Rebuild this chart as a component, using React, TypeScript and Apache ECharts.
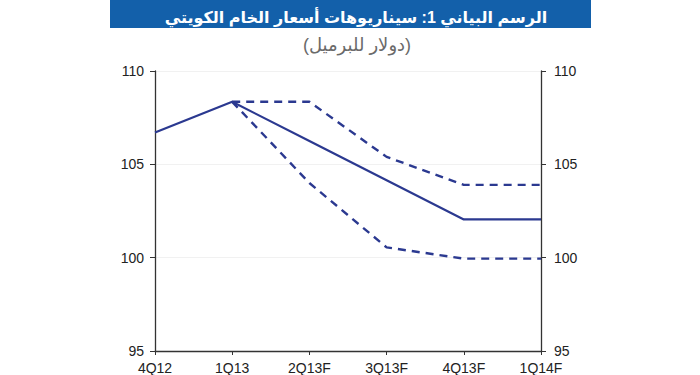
import React, { useEffect, useRef } from "react";
import * as echarts from "echarts";

const categories = ["4Q12", "1Q13", "2Q13F", "3Q13F", "4Q13F", "1Q14F"];
const baseCase = [106.7, 108.35, 106.25, 104.15, 102.05, 102.05];
const highCase = [null, 108.35, 108.35, 105.4, 103.9, 103.9];
const lowCase = [null, 108.35, 104.0, 100.55, 99.95, 99.95];
const titleText = "الرسم البياني 1: سيناريوهات أسعار الخام الكويتي";
const subtitleText = "(دولار للبرميل)";

const FONT = "'Liberation Sans', Arial, 'DejaVu Sans', sans-serif";
const LINE = "#2b3990";

export default function App() {
  const ref = useRef<HTMLDivElement>(null);
  useEffect(() => {
    if (!ref.current) return;
    const chart = echarts.init(ref.current, null, { renderer: "svg" });
    const yAxisCommon = {
      type: "value" as const,
      min: 95,
      max: 110,
      interval: 5,
      axisLine: { show: true, lineStyle: { color: "#333", width: 1.3 } },
      axisTick: { show: true, length: 5, lineStyle: { color: "#333" } },
      axisLabel: { color: "#222", fontSize: 14, fontFamily: FONT, margin: 11 },
      splitLine: { show: true, lineStyle: { color: "#f1f1f1", width: 1 } },
    };
    chart.setOption({
      animation: false,
      backgroundColor: "#ffffff",
      graphic: [
        {
          type: "rect",
          shape: { x: 110, y: 0, width: 481, height: 28 },
          style: { fill: "#1360aa" },
          z: 0,
        },
      ],
      title: [
        {
          text: titleText,
          left: 351,
          top: 4,
          textAlign: "center",
          textStyle: { color: "#ffffff", fontSize: 16, fontWeight: "bold", fontFamily: FONT },
          z: 10,
        },
        {
          text: subtitleText,
          left: 352,
          top: 31,
          textAlign: "center",
          textStyle: { color: "#6a6a6a", fontSize: 18, fontWeight: "normal", fontFamily: FONT },
        },
      ],
      grid: { left: 155, right: 159, top: 71, bottom: 23, containLabel: false },
      xAxis: {
        type: "category",
        data: categories,
        boundaryGap: false,
        axisLine: { show: true, lineStyle: { color: "#333", width: 1.3 } },
        axisTick: { show: true, length: 4, alignWithLabel: true, lineStyle: { color: "#333" } },
        axisLabel: { color: "#222", fontSize: 14, fontFamily: FONT, margin: 10, interval: 0 },
        splitLine: { show: false },
      },
      yAxis: [
        { ...yAxisCommon, position: "left" },
        {
          ...yAxisCommon,
          position: "right",
          splitLine: { show: false },
          axisLabel: { ...yAxisCommon.axisLabel, margin: 13 },
        },
      ],
      series: [
        {
          type: "line",
          data: highCase,
          symbol: "none",
          lineStyle: { color: LINE, width: 2.4, type: [8, 6] },
          z: 2,
        },
        {
          type: "line",
          data: lowCase,
          symbol: "none",
          lineStyle: { color: LINE, width: 2.4, type: [8, 6] },
          z: 2,
        },
        {
          type: "line",
          data: baseCase,
          symbol: "none",
          lineStyle: { color: LINE, width: 2.2, type: "solid" },
          z: 3,
        },
      ],
    });
    return () => chart.dispose();
  }, []);
  return (
    <div
      ref={ref}
      style={{ position: "fixed", left: 0, top: 0, width: 700, height: 375, background: "#fff" }}
    />
  );
}
